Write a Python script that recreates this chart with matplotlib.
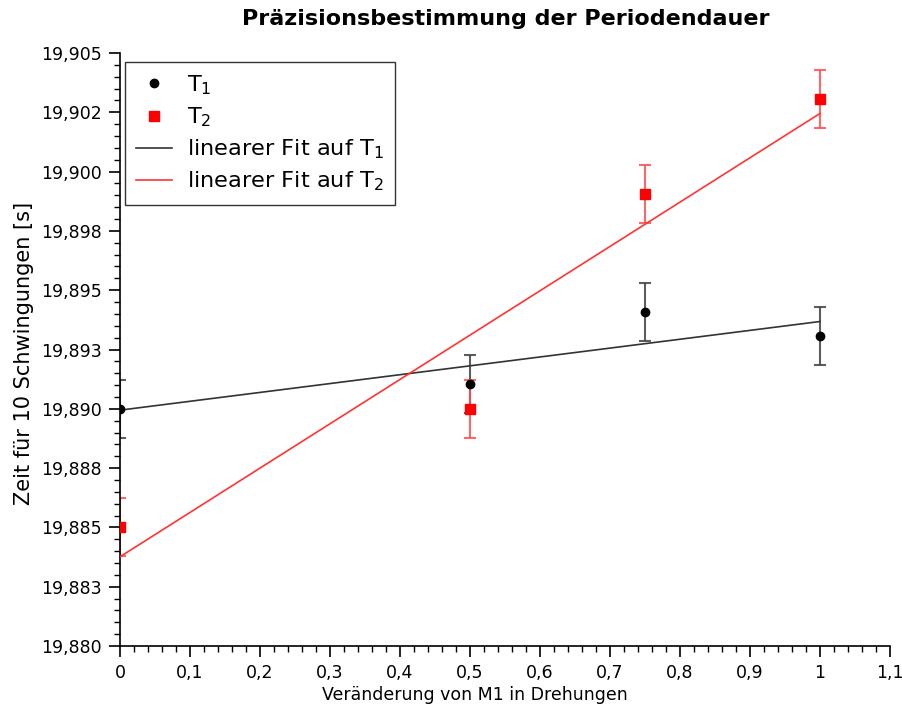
import numpy as np
import matplotlib
matplotlib.use("Agg")
import matplotlib.pyplot as plt
from matplotlib.ticker import MultipleLocator, FixedLocator, FixedFormatter

# ---- data ----
x_vals = [0.0, 0.5, 0.75, 1.0]
t1_vals = [19.8900, 19.89103, 19.89408, 19.89307]
t2_vals = [19.8850, 19.8900, 19.89904, 19.90306]
t1_err = [0.00122, 0.00122, 0.00122, 0.00122]
t2_err = [0.00122, 0.00122, 0.00122, 0.00122]

y_ticks = [19.880, 19.8825, 19.885, 19.8875, 19.890, 19.8925,
           19.895, 19.8975, 19.900, 19.9025, 19.905]
y_tick_labels = ["19,880", "19,883", "19,885", "19,888", "19,890", "19,893",
                 "19,895", "19,898", "19,900", "19,902", "19,905"]
x_ticks = [0, 0.1, 0.2, 0.3, 0.4, 0.5, 0.6, 0.7, 0.8, 0.9, 1.0, 1.1]
x_tick_labels = ["0", "0,1", "0,2", "0,3", "0,4", "0,5", "0,6", "0,7",
                 "0,8", "0,9", "1", "1,1"]

title = "Präzisionsbestimmung der Periodendauer"
xlabel = "Veränderung von M1 in Drehungen"
ylabel = "Zeit für 10 Schwingungen [s]"

plt.rcParams['font.family'] = ['DejaVu Sans']

W, H = 903, 711
fig = plt.figure(figsize=(W / 100, H / 100), dpi=100)
L, R, T, B = 120, 890, 53, 646
ax = fig.add_axes([L / W, 1 - B / H, (R - L) / W, (B - T) / H])

x = np.array(x_vals)
t1 = np.array(t1_vals)
t2 = np.array(t2_vals)

# fits
p1 = np.polyfit(x, t1, 1)
p2 = np.polyfit(x, t2, 1)
xf = np.array([x.min(), x.max()])

# error bars
ax.errorbar(x, t1, yerr=t1_err, fmt='none', ecolor=(0.25, 0.25, 0.25, 0.85),
            elinewidth=1.5, capsize=4, capthick=1.5, zorder=2)
ax.errorbar(x, t2, yerr=t2_err, fmt='none', ecolor=(1.0, 0.3, 0.3, 0.85),
            elinewidth=1.5, capsize=4, capthick=1.5, zorder=2)

# fit lines
ax.plot(xf, np.polyval(p1, xf), color='#333333', lw=1.2, zorder=3,
        label=r"linearer Fit auf T$_{\mathregular{1}}$")
ax.plot(xf, np.polyval(p2, xf), color='#ff3333', lw=1.2, zorder=3,
        label=r"linearer Fit auf T$_{\mathregular{2}}$")

# markers
h1, = ax.plot(x, t1, 'o', color='black', ms=6, zorder=4,
              label=r"T$_{\mathregular{1}}$")
h2, = ax.plot(x, t2, 's', color='#ff0000', ms=6.5, zorder=4,
              label=r"T$_{\mathregular{2}}$")

ax.set_xlim(0, 1.1)
ax.set_ylim(19.880, 19.905)

ax.xaxis.set_major_locator(FixedLocator(x_ticks))
ax.xaxis.set_major_formatter(FixedFormatter(x_tick_labels))
ax.xaxis.set_minor_locator(MultipleLocator(0.02))
ax.yaxis.set_major_locator(FixedLocator(y_ticks))
ax.yaxis.set_major_formatter(FixedFormatter(y_tick_labels))
ax.yaxis.set_minor_locator(MultipleLocator(0.0005))

ax.tick_params(which='major', length=8, width=1.2, labelsize=12.5, pad=5)
ax.tick_params(which='minor', length=4.5, width=1.0)
ax.spines['top'].set_visible(False)
ax.spines['right'].set_visible(False)
for s in ['left', 'bottom']:
    ax.spines[s].set_linewidth(1.2)

ax.set_xlabel(xlabel, fontsize=12.5)
ax.xaxis.set_label_coords((475 - L) / (R - L), -0.068)
ax.set_ylabel(ylabel, fontsize=15)
ax.yaxis.set_label_coords(-0.112, (B - 353) / (B - T))

fig.text(506 / W, 1 - 19 / H, title, ha='center', va='center',
         fontsize=16, fontweight='bold')

handles, labels = ax.get_legend_handles_labels()
order = [2, 3, 0, 1]
leg = ax.legend([handles[i] for i in order], [labels[i] for i in order],
                loc='upper left', bbox_to_anchor=(125 / W, 1 - 62 / H),
                bbox_transform=fig.transFigure, borderaxespad=0,
                fontsize=16.2, fancybox=False, framealpha=1, edgecolor='#333333',
                handlelength=1.6, handletextpad=0.65, labelspacing=0.38,
                borderpad=0.5, numpoints=1)
leg.get_frame().set_linewidth(1.0)

fig.savefig("out.png", dpi=100)
